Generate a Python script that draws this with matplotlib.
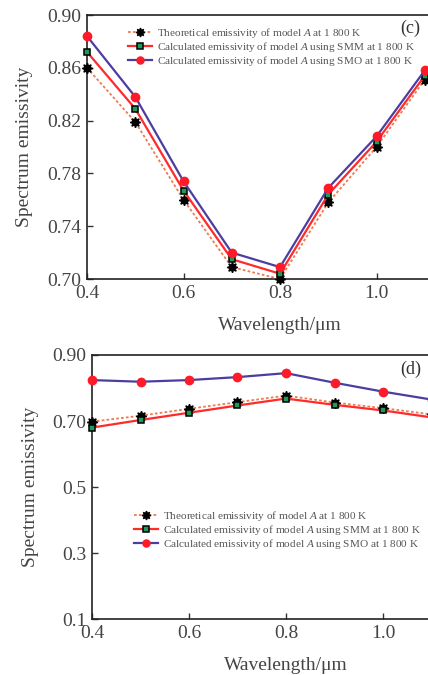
import matplotlib
matplotlib.use("Agg")
import matplotlib.pyplot as plt

plt.rcParams["font.family"] = ["Liberation Serif", "DejaVu Serif"]
plt.rcParams["mathtext.fontset"] = "custom"
plt.rcParams["mathtext.it"] = "Liberation Serif:italic"
plt.rcParams["mathtext.rm"] = "Liberation Serif"

# ── Data ─────────────────────────────────────────────
wavelength = [0.4, 0.5, 0.6, 0.7, 0.8, 0.9, 1.0, 1.1]

# panel (c)
theory_c = [0.860, 0.819, 0.760, 0.709, 0.700, 0.758, 0.800, 0.851]
smm_c = [0.872, 0.829, 0.767, 0.715, 0.704, 0.764, 0.804, 0.854]
smo_c = [0.884, 0.838, 0.774, 0.720, 0.709, 0.769, 0.808, 0.858]

# panel (d)
theory_d = [0.698, 0.716, 0.737, 0.757, 0.777, 0.756, 0.739, 0.720]
smm_d = [0.680, 0.703, 0.725, 0.747, 0.768, 0.749, 0.732, 0.711]
smo_d = [0.824, 0.819, 0.824, 0.833, 0.845, 0.816, 0.789, 0.765]

xticks = [0.4, 0.6, 0.8, 1.0]
xtick_labels = ["0.4", "0.6", "0.8", "1.0"]
yticks_c = [0.70, 0.74, 0.78, 0.82, 0.86, 0.90]
ytick_labels_c = ["0.70", "0.74", "0.78", "0.82", "0.86", "0.90"]
yticks_d = [0.1, 0.3, 0.5, 0.7, 0.9]
ytick_labels_d = ["0.1", "0.3", "0.5", "0.70", "0.90"]

labels = [
    r"Theoretical emissivity of model $A$ at 1 800 K",
    r"Calculated emissivity of model $A$ using SMM at 1 800 K",
    r"Calculated emissivity of model $A$ using SMO at 1 800 K",
]

ORANGE = "#f07a50"
RED = "#ff2a2a"
PURPLE = "#4b3ea0"
GREEN = "#1f9a5a"


def draw_panel(ax, theory, smm, smo):
    ax.plot(wavelength, theory, color=ORANGE, linestyle=(0, (1.5, 1.2)), linewidth=1.3,
            marker=(8, 1, 0), markersize=7.5, markerfacecolor="black",
            markeredgecolor="black", label=labels[0], clip_on=False, zorder=3)
    ax.plot(wavelength, smm, color=RED, linewidth=1.6, marker="s", markersize=5,
            markerfacecolor=GREEN, markeredgecolor="black", markeredgewidth=1.1,
            label=labels[1], clip_on=False, zorder=4)
    ax.plot(wavelength, smo, color=PURPLE, linewidth=1.6, marker="o", markersize=6,
            markerfacecolor="#ff1a2a", markeredgecolor="#ff1a2a",
            label=labels[2], clip_on=False, zorder=5)
    ax.set_xlim(0.4, 1.2)
    ax.set_xticks(xticks)
    ax.set_xticklabels(xtick_labels)
    ax.tick_params(direction="in", length=4, width=1, labelsize=14, colors="#333333",
                   labelcolor="#444444", pad=4)
    for sp in ax.spines.values():
        sp.set_linewidth(1.2)
        sp.set_color("#222222")
    ax.set_xlabel("Wavelength/μm", fontsize=14, color="#444444", labelpad=11)
    ax.set_ylabel("Spectrum emissivity", fontsize=14, color="#444444", labelpad=10)


fig = plt.figure(figsize=(4.28, 6.75), dpi=100)
fig.patch.set_facecolor("white")

legend_kw = dict(frameon=False, fontsize=8.1, handlelength=2.2, handletextpad=0.4,
                 labelspacing=0.0, borderaxespad=0.2, labelcolor="#555555",
                 markerscale=0.85)

ax1 = fig.add_axes([87 / 428, 1 - 279 / 675, 386 / 428, 264 / 675])
draw_panel(ax1, theory_c, smm_c, smo_c)
ax1.set_ylim(0.70, 0.90)
ax1.set_yticks(yticks_c)
ax1.set_yticklabels(ytick_labels_c)
ax1.legend(loc="upper left", bbox_to_anchor=(0.088, 0.984), **legend_kw)
fig.text(410 / 428, 1 - 28 / 675, "(c)", fontsize=13, ha="center", va="center", color="#333333")

ax2 = fig.add_axes([92 / 428, 1 - 619 / 675, 388 / 428, 264 / 675])
draw_panel(ax2, theory_d, smm_d, smo_d)
ax2.set_ylim(0.1, 0.9)
ax2.set_yticks(yticks_d)
ax2.set_yticklabels(ytick_labels_d)
ax2.legend(loc="upper left", bbox_to_anchor=(0.09, 0.444), **legend_kw)
fig.text(411 / 428, 1 - 369 / 675, "(d)", fontsize=13, ha="center", va="center", color="#333333")

fig.savefig("out.png", dpi=100, facecolor="white")
